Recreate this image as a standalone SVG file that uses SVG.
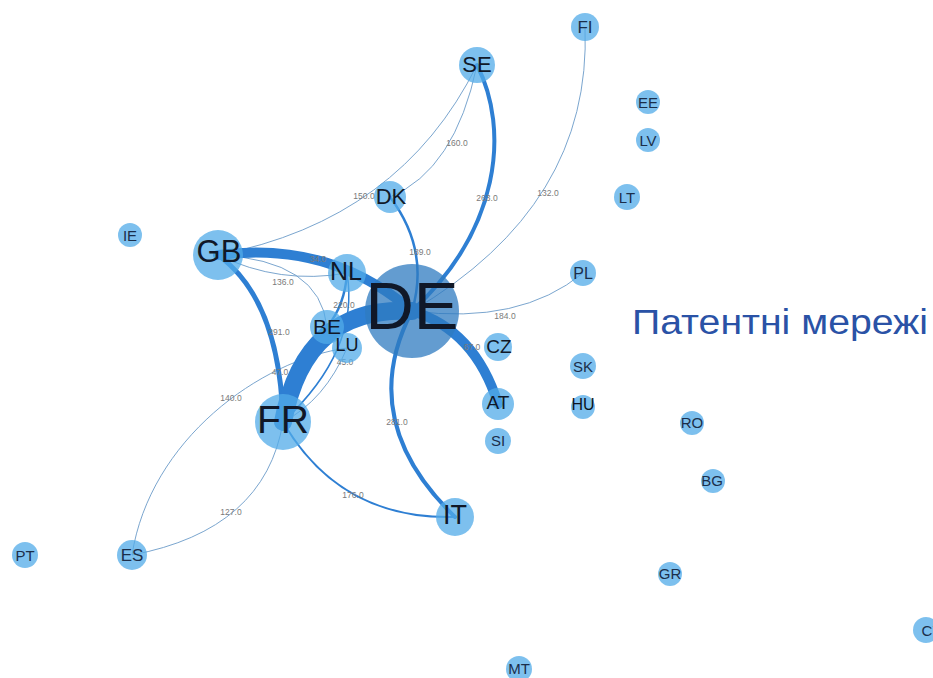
<svg xmlns="http://www.w3.org/2000/svg" width="933" height="678" viewBox="0 0 933 678">
  <style>
    .edge { fill: none; stroke: #2e7fd3; stroke-linecap: round; }
    .thin { fill: none; stroke: #6b9bc8; stroke-width: 0.9; }
    .elabel { font-family: "Liberation Sans", Arial, sans-serif; font-size: 8.5px; fill: #7a7a7a; text-anchor: middle; }
    .node circle { fill: #52abe8; fill-opacity: 0.75; }
    .node text { font-family: "Liberation Sans", Arial, sans-serif; fill: #101828; text-anchor: middle; dominant-baseline: central; }
    .small text { font-size: 15px; fill: #1b2e4a; }
    .title { font-family: "Liberation Sans", Arial, sans-serif; font-size: 35px; fill: #2a52a6; }
  </style>
  <rect width="933" height="678" fill="#ffffff"/>

  <!-- connectors -->
  <g id="edges">
    <!-- thin links -->
    <path class="thin" d="M218 255 Q 280 285 347 273"/>
    <path class="thin" d="M218 255 Q 320 260 327 327"/>
    <path class="thin" d="M218 255 Q 400 220 477 65"/>
    <path class="thin" d="M390 197 Q 455 170 477 65"/>
    <path class="thin" d="M585 27 Q 592 205 412 311"/>
    <path class="thin" d="M583 273 Q 520 325 412 311"/>
    <path class="thin" d="M347 348 C 260 360 150 440 132 555"/>
    <path class="thin" d="M283 422 Q 265 530 132 555"/>
    <path class="thin" d="M283 422 Q 325 400 347 348"/>
    <!-- medium links -->
    <path class="edge" stroke-width="1.5" d="M283 422 Q 360 350 347 273"/>
    <path class="edge" stroke-width="2.5" d="M327 327 Q 345 305 347 273"/>
    <path class="edge" stroke-width="2" d="M283 422 Q 340 520 455 517"/>
    <path class="edge" stroke-width="2.5" d="M390 197 Q 430 250 412 311"/>
    <path class="edge" stroke-width="4" d="M412 311 Q 355 420 455 517"/>
    <path class="edge" stroke-width="4" d="M477 65 C 510 130 500 230 412 311"/>
    <path class="edge" stroke-width="5" d="M218 255 Q 280 300 283 422"/>
    <path class="edge" stroke-width="6" d="M283 422 Q 292 355 327 327"/>
    <!-- heavy links -->
    <path class="edge" stroke-width="10" d="M218 255 Q 330 240 412 311"/>
    <path class="edge" stroke-width="10" d="M412 311 Q 475 330 498 404"/>
    <path class="edge" stroke-width="18" d="M283 422 Q 305 305 412 311"/>
  </g>

  <!-- link weights -->
  <g id="edge-labels">
    <text class="elabel" x="457" y="146">160.0</text>
    <text class="elabel" x="364" y="199">150.0</text>
    <text class="elabel" x="487" y="201">263.0</text>
    <text class="elabel" x="548" y="196">132.0</text>
    <text class="elabel" x="420" y="255">189.0</text>
    <text class="elabel" x="318" y="262">34.0</text>
    <text class="elabel" x="283" y="285">136.0</text>
    <text class="elabel" x="344" y="308">220.0</text>
    <text class="elabel" x="279" y="335">291.0</text>
    <text class="elabel" x="505" y="319">184.0</text>
    <text class="elabel" x="472" y="350">67.0</text>
    <text class="elabel" x="345" y="365">45.0</text>
    <text class="elabel" x="280" y="375">47.0</text>
    <text class="elabel" x="231" y="401">140.0</text>
    <text class="elabel" x="397" y="425">281.0</text>
    <text class="elabel" x="353" y="498">176.0</text>
    <text class="elabel" x="231" y="515">127.0</text>
  </g>

  <!-- countries -->
  <g id="node-DE" class="node"><circle cx="412" cy="311" r="47" style="fill:#2f7bc0"/><text x="412" y="305" font-size="67">DE</text></g>
  <g id="node-FR" class="node"><circle cx="283" cy="422" r="28"/><text x="283" y="419" font-size="39">FR</text></g>
  <g id="node-GB" class="node"><circle cx="218" cy="255" r="25"/><text x="219" y="251" font-size="31">GB</text></g>
  <g id="node-NL" class="node"><circle cx="347" cy="273" r="19"/><text x="346" y="271" font-size="25">NL</text></g>
  <g id="node-BE" class="node"><circle cx="327" cy="327" r="17"/><text x="327" y="326" font-size="21">BE</text></g>
  <g id="node-LU" class="node"><circle cx="347" cy="348" r="15"/><text x="347" y="345" font-size="18">LU</text></g>
  <g id="node-SE" class="node"><circle cx="477" cy="65" r="18"/><text x="477" y="64" font-size="22">SE</text></g>
  <g id="node-DK" class="node"><circle cx="390" cy="197" r="16"/><text x="391" y="196" font-size="22">DK</text></g>
  <g id="node-IT" class="node"><circle cx="455" cy="517" r="19"/><text x="455" y="515" font-size="27">IT</text></g>
  <g id="node-AT" class="node"><circle cx="498" cy="404" r="16"/><text x="498" y="402" font-size="19">AT</text></g>
  <g id="node-CZ" class="node"><circle cx="498" cy="347" r="14"/><text x="499" y="346" font-size="19">CZ</text></g>
  <g id="node-ES" class="node small"><circle cx="132" cy="555" r="15"/><text x="132" y="555" style="font-size:17px">ES</text></g>
  <g id="node-FI" class="node small"><circle cx="585" cy="27" r="14"/><text x="585" y="27" style="font-size:17px">FI</text></g>
  <g id="node-EE" class="node small"><circle cx="648" cy="102" r="12"/><text x="648" y="102">EE</text></g>
  <g id="node-LV" class="node small"><circle cx="648" cy="140" r="12"/><text x="648" y="140">LV</text></g>
  <g id="node-LT" class="node small"><circle cx="627" cy="197" r="13"/><text x="627" y="197">LT</text></g>
  <g id="node-IE" class="node small"><circle cx="130" cy="235" r="12"/><text x="130" y="235">IE</text></g>
  <g id="node-PL" class="node small"><circle cx="583" cy="273" r="13"/><text x="583" y="273" style="font-size:16px">PL</text></g>
  <g id="node-SK" class="node small"><circle cx="583" cy="366" r="13"/><text x="583" y="366">SK</text></g>
  <g id="node-HU" class="node small"><circle cx="583" cy="407" r="12"/><text x="583" y="404" style="font-size:16px;fill:#0d1420">HU</text></g>
  <g id="node-SI" class="node small"><circle cx="498" cy="441" r="13"/><text x="498" y="440">SI</text></g>
  <g id="node-RO" class="node small"><circle cx="692" cy="423" r="12"/><text x="692" y="422">RO</text></g>
  <g id="node-BG" class="node small"><circle cx="713" cy="481" r="12"/><text x="712" y="480">BG</text></g>
  <g id="node-PT" class="node small"><circle cx="25" cy="555" r="13"/><text x="25" y="555">PT</text></g>
  <g id="node-GR" class="node small"><circle cx="670" cy="574" r="12"/><text x="670" y="573">GR</text></g>
  <g id="node-MT" class="node small"><circle cx="519" cy="669" r="13"/><text x="519" y="668">MT</text></g>
  <g id="node-CY" class="node small"><circle cx="926" cy="630" r="13"/><text x="932" y="630">CY</text></g>

  <text class="title" x="632" y="334" textLength="296" lengthAdjust="spacingAndGlyphs">Патентні мережі</text>
</svg>
